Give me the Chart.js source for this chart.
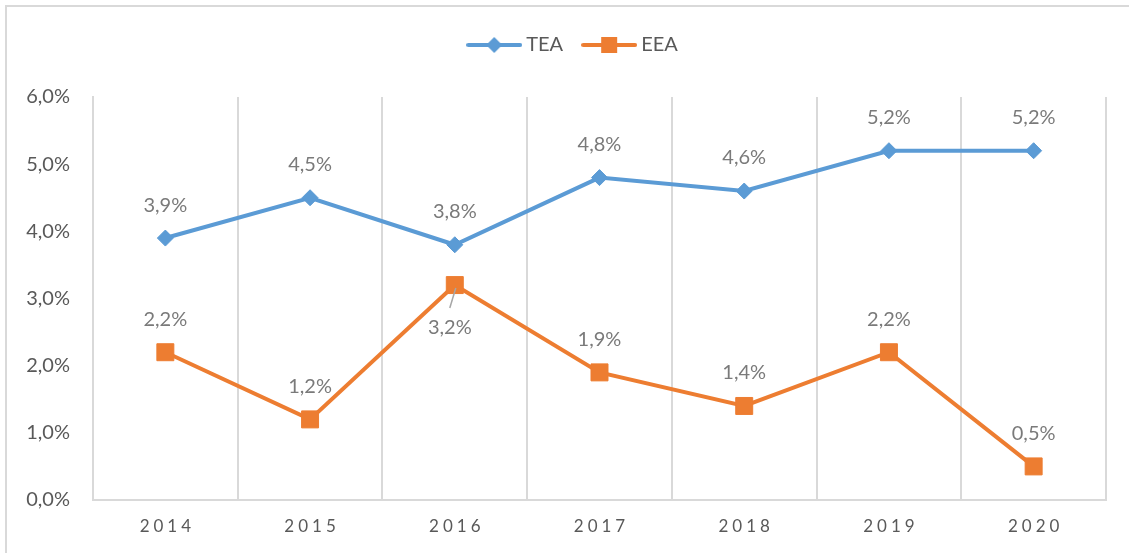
<!DOCTYPE html>
<html>
<head>
<meta charset="utf-8">
<script src="https://cdn.jsdelivr.net/npm/chart.js@4/dist/chart.umd.min.js"></script>
<style>
    html, body { margin: 0; padding: 0; background: #fff; }
    canvas { display: block; }
</style>
</head>
<body>
<canvas id="chart" width="1129" height="553"></canvas>
<script>
// -- Chart data --
const years = ['2014', '2015', '2016', '2017', '2018', '2019', '2020'];
const teaValues = [3.9, 4.5, 3.8, 4.8, 4.6, 5.2, 5.2];
const eeaValues = [2.2, 1.2, 3.2, 1.9, 1.4, 2.2, 0.5];
const yTicks = [0, 1, 2, 3, 4, 5, 6];

const FONT = 'Lato';
const blue = '#5B9BD5';
const orange = '#ED7D31';

// Format like the Excel labels: 3,9%
function pct(v) {
    return v.toFixed(1).replace('.', ',') + '%';
}

// Small canvas with a line and a marker, used as legend symbol
function legendSymbol(color, shape) {
    const c = document.createElement('canvas');
    c.width = 56;
    c.height = 20;
    const ctx = c.getContext('2d');
    ctx.strokeStyle = color;
    ctx.fillStyle = color;
    ctx.lineWidth = 4;
    ctx.lineCap = 'round';
    ctx.beginPath();
    ctx.moveTo(2, 10);
    ctx.lineTo(54, 10);
    ctx.stroke();
    ctx.beginPath();
    if (shape === 'diamond') {
        ctx.moveTo(28, 2);
        ctx.lineTo(36, 10);
        ctx.lineTo(28, 18);
        ctx.lineTo(20, 10);
    } else {
        ctx.rect(20, 2, 16, 16);
    }
    ctx.fill();
    return c;
}

// Draws the outer frame of the chart
const framePlugin = {
    id: 'frame',
    beforeDraw(chart) {
        const ctx = chart.ctx;
        ctx.save();
        ctx.fillStyle = '#fff';
        ctx.fillRect(0, 0, chart.width, chart.height);
        ctx.strokeStyle = '#d9d9d9';
        ctx.lineWidth = 2;
        ctx.strokeRect(6, 6, chart.width + 10, chart.height + 10);
        ctx.restore();
        // legend sits a bit right of the canvas centre in the original
        chart.legend.left = 44;
        chart.legend.right = 1106;
    }
};

// Force legend height so the plot starts where it should
const legendHeightPlugin = {
    id: 'legendHeight',
    beforeInit(chart) {
        const origFit = chart.legend.fit;
        chart.legend.fit = function () {
            origFit.call(this);
            this.height = 86;
        };
    }
};

// Year labels under the axis, spaced out like the original
const xLabelsPlugin = {
    id: 'xLabels',
    afterDraw(chart) {
        const ctx = chart.ctx;
        const xScale = chart.scales.x;
        const spacing = 4;
        ctx.save();
        ctx.font = '17px ' + FONT;
        ctx.fillStyle = '#595959';
        ctx.textBaseline = 'middle';
        ctx.textAlign = 'left';
        ctx.letterSpacing = spacing + 'px';
        years.forEach((year, i) => {
            const x = xScale.getPixelForValue(i);
            const w = ctx.measureText(year).width - spacing;
            ctx.fillText(year, x - w / 2, 527);
        });
        ctx.restore();
    }
};

// Data labels above the points (2016 EEA goes below, with a leader line)
const dataLabelPlugin = {
    id: 'dataLabels',
    afterDatasetsDraw(chart) {
        const ctx = chart.ctx;
        ctx.save();
        ctx.font = '20px ' + FONT;
        ctx.fillStyle = '#7a7a7a';
        ctx.textAlign = 'center';
        ctx.textBaseline = 'middle';
        chart.data.datasets.forEach((ds, di) => {
            const meta = chart.getDatasetMeta(di);
            meta.data.forEach((pt, i) => {
                const text = pct(ds.data[i]);
                if (di === 1 && i === 2) {
                    ctx.strokeStyle = '#a6a6a6';
                    ctx.lineWidth = 1.5;
                    ctx.beginPath();
                    ctx.moveTo(pt.x + 1, pt.y + 3);
                    ctx.lineTo(pt.x - 5, pt.y + 23);
                    ctx.stroke();
                    ctx.fillText(text, pt.x - 5, pt.y + 42);
                } else {
                    ctx.fillText(text, pt.x, pt.y - 33);
                }
            });
        });
        ctx.restore();
    }
};

const symbols = [legendSymbol(blue, 'diamond'), legendSymbol(orange, 'square')];

new Chart(document.getElementById('chart'), {
    type: 'line',
    data: {
        labels: years,
        datasets: [
            {
                label: 'TEA',
                data: teaValues,
                borderColor: blue,
                backgroundColor: blue,
                borderWidth: 4,
                pointStyle: 'rectRot',
                pointRadius: 8,
                pointBorderWidth: 1,
                pointBackgroundColor: blue,
                pointBorderColor: blue,
                tension: 0
            },
            {
                label: 'EEA',
                data: eeaValues,
                borderColor: orange,
                backgroundColor: orange,
                borderWidth: 4,
                pointStyle: 'rect',
                pointRadius: 12,
                pointBorderWidth: 1,
                pointBackgroundColor: orange,
                pointBorderColor: orange,
                tension: 0
            }
        ]
    },
    options: {
        responsive: false,
        animation: false,
        devicePixelRatio: 1,
        layout: {
            padding: { top: 11, right: 23, bottom: 53, left: 0 }
        },
        scales: {
            x: {
                type: 'category',
                offset: true,
                grid: {
                    display: true,
                    offset: true,
                    color: '#d9d9d9',
                    lineWidth: 2,
                    drawTicks: false
                },
                border: { display: true, color: '#d9d9d9', width: 2 },
                ticks: { display: false }
            },
            y: {
                min: 0,
                max: 6,
                afterFit(scale) {
                    scale.width = 93;
                },
                afterBuildTicks(scale) {
                    scale.ticks = yTicks.map(v => ({ value: v }));
                },
                grid: { display: false, drawTicks: false },
                border: { display: true, color: '#d9d9d9', width: 2 },
                ticks: {
                    padding: 23,
                    color: '#595959',
                    font: { family: FONT, size: 20 },
                    callback: (v) => pct(v)
                }
            }
        },
        plugins: {
            legend: {
                position: 'top',
                align: 'center',
                labels: {
                    usePointStyle: true,
                    pointStyleWidth: 44,
                    padding: 24,
                    color: '#595959',
                    font: { family: FONT, size: 20 },
                    generateLabels(chart) {
                        return chart.data.datasets.map((ds, i) => ({
                            text: ds.label,
                            pointStyle: symbols[i],
                            fillStyle: ds.borderColor,
                            strokeStyle: ds.borderColor,
                            lineWidth: 0,
                            fontColor: '#595959',
                            hidden: !chart.isDatasetVisible(i),
                            datasetIndex: i
                        }));
                    }
                }
            },
            tooltip: { enabled: false }
        }
    },
    plugins: [framePlugin, legendHeightPlugin, xLabelsPlugin, dataLabelPlugin]
});
</script>
</body>
</html>
